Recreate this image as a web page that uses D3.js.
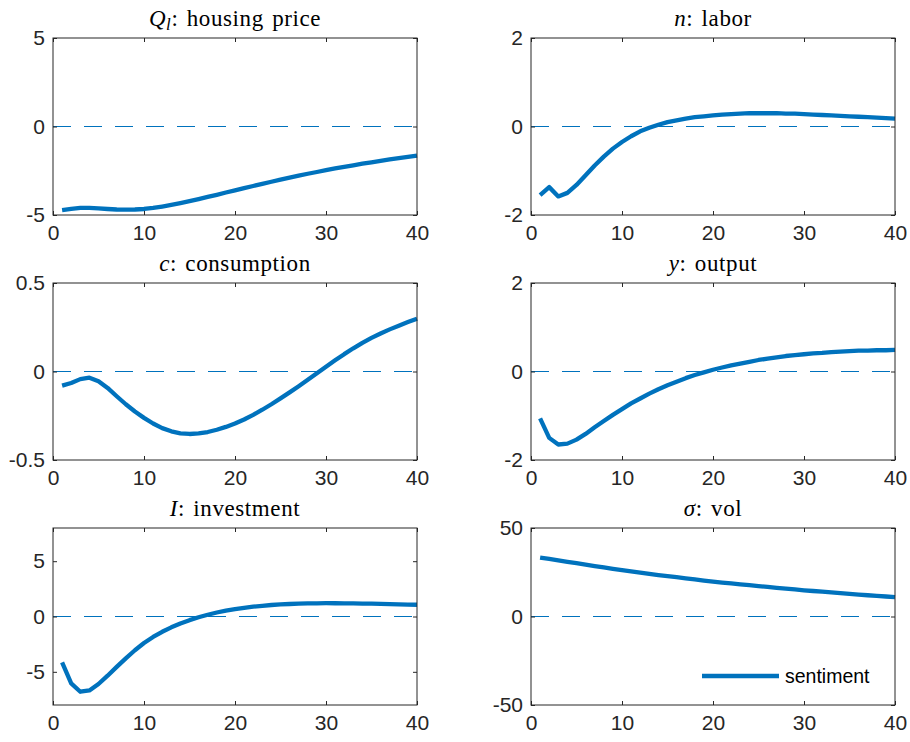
<!DOCTYPE html>
<html><head><meta charset="utf-8">
<script src="https://cdn.jsdelivr.net/npm/d3@7"></script>
<style>body{margin:0;background:#fff}</style>
</head><body>
<svg id="c" width="910" height="742" xmlns="http://www.w3.org/2000/svg"></svg>
<script>
// ---------- data ----------
const periods = [1,2,3,4,5,6,7,8,9,10,11,12,13,14,15,16,17,18,19,20,21,22,23,24,25,26,27,28,29,30,31,32,33,34,35,36,37,38,39,40];

const housingPrice = [-4.72,-4.65,-4.60,-4.60,-4.62,-4.66,-4.69,-4.70,-4.69,-4.66,-4.60,-4.52,-4.43,-4.33,-4.22,-4.10,-3.98,-3.86,-3.73,-3.61,-3.48,-3.36,-3.24,-3.12,-3.00,-2.89,-2.78,-2.67,-2.57,-2.47,-2.37,-2.28,-2.19,-2.10,-2.02,-1.94,-1.86,-1.79,-1.72,-1.65];
const labor = [-1.55,-1.37,-1.58,-1.50,-1.32,-1.10,-0.88,-0.68,-0.50,-0.35,-0.22,-0.11,-0.03,0.04,0.10,0.14,0.18,0.21,0.23,0.25,0.27,0.28,0.29,0.30,0.30,0.30,0.30,0.29,0.29,0.28,0.27,0.26,0.25,0.24,0.23,0.22,0.21,0.20,0.19,0.18];
const consumption = [-0.080,-0.065,-0.043,-0.035,-0.055,-0.093,-0.140,-0.185,-0.226,-0.262,-0.294,-0.320,-0.338,-0.349,-0.353,-0.350,-0.342,-0.329,-0.313,-0.294,-0.271,-0.245,-0.216,-0.185,-0.152,-0.118,-0.083,-0.047,-0.010,0.027,0.063,0.098,0.131,0.162,0.190,0.215,0.238,0.259,0.279,0.298];
const output = [-1.06,-1.50,-1.65,-1.63,-1.54,-1.41,-1.26,-1.12,-0.98,-0.85,-0.72,-0.61,-0.50,-0.40,-0.31,-0.23,-0.15,-0.08,-0.02,0.04,0.09,0.14,0.18,0.22,0.26,0.29,0.32,0.35,0.37,0.39,0.41,0.42,0.44,0.45,0.46,0.47,0.47,0.48,0.48,0.49];
const investment = [-4.15,-6.05,-6.80,-6.68,-6.10,-5.35,-4.55,-3.78,-3.05,-2.40,-1.85,-1.38,-0.98,-0.63,-0.33,-0.07,0.16,0.36,0.53,0.67,0.79,0.89,0.97,1.04,1.09,1.13,1.16,1.18,1.19,1.20,1.20,1.19,1.18,1.17,1.16,1.14,1.12,1.10,1.08,1.06];
const vol = [33.3,32.5,31.7,30.9,30.1,29.3,28.5,27.7,26.9,26.2,25.5,24.8,24.1,23.4,22.8,22.2,21.6,21.0,20.3,19.7,19.2,18.7,18.2,17.7,17.2,16.7,16.2,15.7,15.3,14.8,14.4,14.0,13.6,13.2,12.8,12.4,12.0,11.6,11.3,10.9];

const titleSymbols = ["Q","n","c","y","I","σ"];
const titleSubs    = ["l","","","","",""];
const titleTexts   = [": housing price",": labor",": consumption",": output",": investment",": vol"];
const seriesList   = [housingPrice, labor, consumption, output, investment, vol];
const yDomains     = [[-5,5],[-2,2],[-0.5,0.5],[-2,2],[-8,8],[-50,50]];
const yTickValues  = [[-5,0,5],[-2,0,2],[-0.5,0,0.5],[-2,0,2],[-5,0,5],[-50,0,50]];
const xDomain      = [0,40];
const xTickValues  = [0,10,20,30,40];
const legendLabel  = "sentiment";

// ---------- layout ----------
const colLeft = [53, 531];
const plotW = 364;
const rowTop = [38, 283, 528];
const plotH = 177;
const blue = "#0072BD";
const axisColor = "#262626";
const tickFont = "'Liberation Sans', Arial, sans-serif";
const titleFont = "'Liberation Serif', 'Times New Roman', serif";

const svg = d3.select("#c");

seriesList.forEach((series, i) => {
  const col = i % 2, row = Math.floor(i / 2);
  const x0 = colLeft[col], y0 = rowTop[row];
  const g = svg.append("g").attr("transform", `translate(${x0},${y0})`);

  const x = d3.scaleLinear().domain(xDomain).range([0, plotW]);
  const y = d3.scaleLinear().domain(yDomains[i]).range([plotH, 0]);

  // zero dashed line
  g.append("line")
    .attr("x1", x(xDomain[0])).attr("x2", x(xDomain[1]))
    .attr("y1", y(0)).attr("y2", y(0))
    .attr("stroke", blue).attr("stroke-width", 1.1)
    .attr("stroke-dasharray", "18,13");

  // series line
  g.append("path")
    .datum(periods.map((p, k) => [p, series[k]]))
    .attr("fill", "none")
    .attr("stroke", blue)
    .attr("stroke-width", 4.3)
    .attr("stroke-linejoin", "round")
    .attr("d", d3.line().x(d => x(d[0])).y(d => y(d[1])));

  // axes
  const fmt = d => String(d);
  const axL = g.append("g").call(d3.axisLeft(y).tickValues(yTickValues[i]).tickSizeInner(-4).tickSizeOuter(0).tickPadding(8).tickFormat(fmt));
  const axB = g.append("g").attr("transform", `translate(0,${plotH})`).call(d3.axisBottom(x).tickValues(xTickValues).tickSizeInner(-4).tickSizeOuter(0).tickPadding(10).tickFormat(fmt));
  const axR = g.append("g").attr("transform", `translate(${plotW},0)`).call(d3.axisRight(y).tickValues(yTickValues[i]).tickSizeInner(-4).tickSizeOuter(0).tickFormat(""));
  const axT = g.append("g").call(d3.axisTop(x).tickValues(xTickValues).tickSizeInner(-4).tickSizeOuter(0).tickFormat(""));
  [axL, axB, axR, axT].forEach(a => {
    a.select(".domain").remove();
    a.selectAll("line").attr("stroke", axisColor);
    a.selectAll("text").attr("fill", axisColor).style("font-family", tickFont).style("font-size", "21px");
  });

  // box
  g.append("rect").attr("x", 0).attr("y", 0).attr("width", plotW).attr("height", plotH)
    .attr("fill", "none").attr("stroke", axisColor).attr("stroke-width", 1);

  // title
  const t = g.append("text")
    .attr("x", plotW / 2).attr("y", -12)
    .attr("text-anchor", "middle")
    .style("font-family", titleFont).style("font-size", "23px")
    .style("letter-spacing", "0.6px").style("word-spacing", "2px")
    .attr("fill", "#000");
  t.append("tspan").style("font-style", "italic").text(titleSymbols[i]);
  if (titleSubs[i]) {
    t.append("tspan").style("font-style", "italic").style("font-size", "17px").attr("dy", 4).text(titleSubs[i]);
    t.append("tspan").attr("dy", -4).text(titleTexts[i]);
  } else {
    t.append("tspan").text(titleTexts[i]);
  }

  // legend in last panel
  if (i === seriesList.length - 1) {
    const lx = 171, ly = 148;
    g.append("line").attr("x1", lx).attr("x2", lx + 77).attr("y1", ly).attr("y2", ly)
      .attr("stroke", blue).attr("stroke-width", 4.3);
    g.append("text").attr("x", lx + 83).attr("y", ly).attr("dy", "0.35em")
      .style("font-family", tickFont).style("font-size", "19.5px").attr("fill", "#000")
      .text(legendLabel);
  }
});
</script>
</body></html>
